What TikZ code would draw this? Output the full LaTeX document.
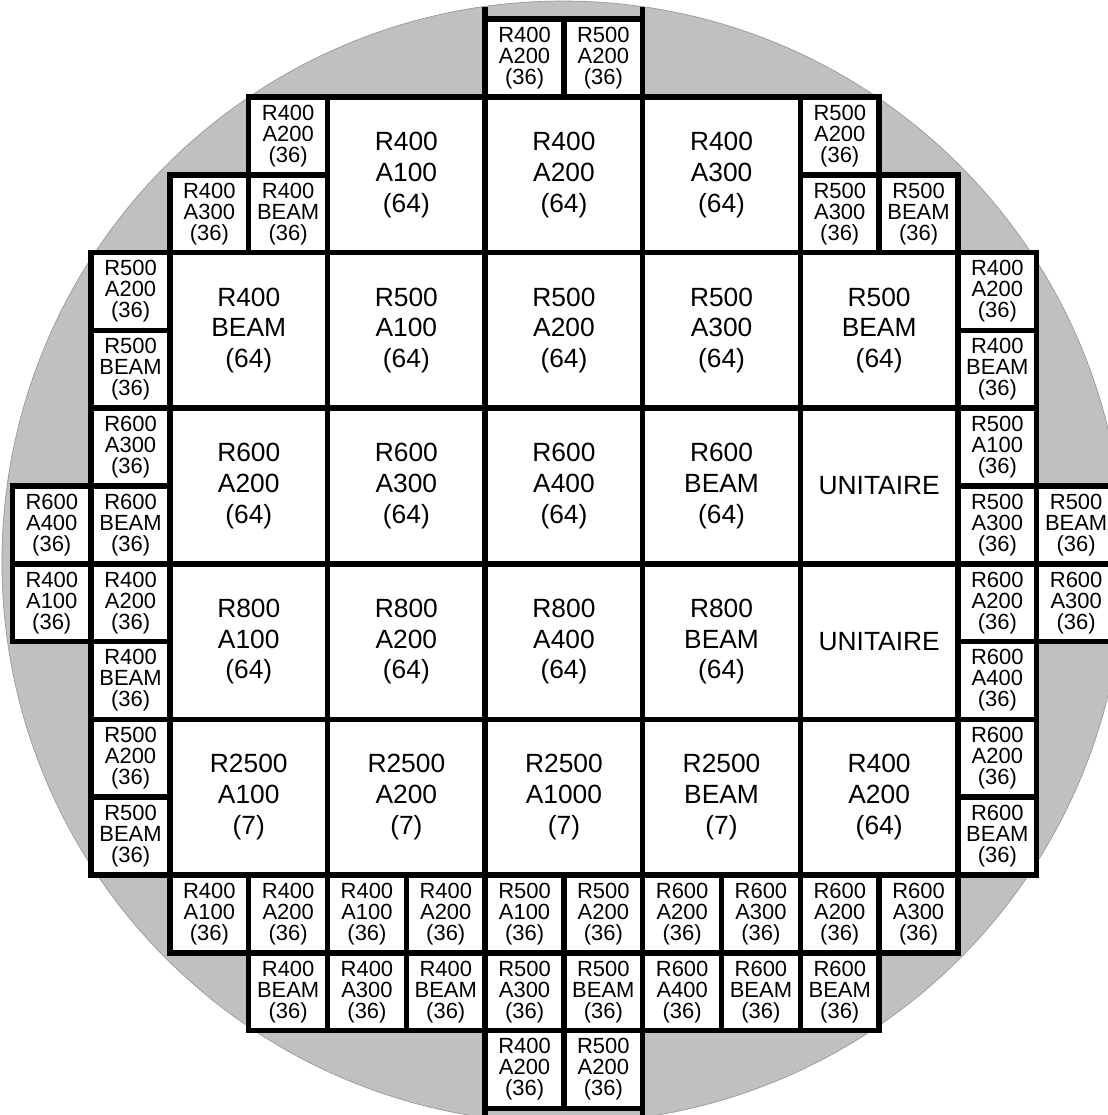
\documentclass[tikz,border=0pt]{standalone}
\usepackage{fontspec}
\setmainfont{Liberation Sans}
\definecolor{wafergray}{RGB}{192,192,192}
\begin{document}
\begin{tikzpicture}[x=1.576cm,y=-1.556cm,
  cell/.style={draw=black,fill=white,line width=3.1pt,anchor=north west,
    inner sep=0pt,outer sep=0pt,align=center},
  smallcell/.style={cell,minimum width=1.576cm,minimum height=1.556cm,
    font=\fontsize{12.5}{12}\selectfont},
  bigcell/.style={cell,minimum width=3.152cm,minimum height=3.112cm,
    font=\fontsize{15}{17.5}\selectfont}]
  \useasboundingbox (-0.157,-0.247) rectangle (13.904,14.085);
  % wafer
  \fill[wafergray,draw=gray!80,thin] (6.987,6.977) circle [radius=11.22cm];
  % top
  \node[smallcell] (c6r0) at (6,0) {R400\\A200\\(36)};
  \node[smallcell] (c7r0) at (7,0) {R500\\A200\\(36)};
  \draw[line width=3.1pt] (c6r0.north west) -- ++(0,-0.16);
  \draw[line width=3.1pt] (c7r0.north east) -- ++(0,-0.16);
  % row 1
  \node[smallcell] (c3r1) at (3,1) {R400\\A200\\(36)};
  \node[smallcell] (c2r2) at (2,2) {R400\\A300\\(36)};
  \node[smallcell] (c3r2) at (3,2) {R400\\BEAM\\(36)};
  \node[bigcell] (b4r1) at (4,1) {R400\\A100\\(64)};
  \node[bigcell] (b6r1) at (6,1) {R400\\A200\\(64)};
  \node[bigcell] (b8r1) at (8,1) {R400\\A300\\(64)};
  \node[smallcell] (c10r1) at (10,1) {R500\\A200\\(36)};
  \node[smallcell] (c10r2) at (10,2) {R500\\A300\\(36)};
  \node[smallcell] (c11r2) at (11,2) {R500\\BEAM\\(36)};
  % row 2
  \node[smallcell] (c1r3) at (1,3) {R500\\A200\\(36)};
  \node[smallcell] (c1r4) at (1,4) {R500\\BEAM\\(36)};
  \node[bigcell] (b2r3) at (2,3) {R400\\BEAM\\(64)};
  \node[bigcell] (b4r3) at (4,3) {R500\\A100\\(64)};
  \node[bigcell] (b6r3) at (6,3) {R500\\A200\\(64)};
  \node[bigcell] (b8r3) at (8,3) {R500\\A300\\(64)};
  \node[bigcell] (b10r3) at (10,3) {R500\\BEAM\\(64)};
  \node[smallcell] (c12r3) at (12,3) {R400\\A200\\(36)};
  \node[smallcell] (c12r4) at (12,4) {R400\\BEAM\\(36)};
  % row 3
  \node[smallcell] (c1r5) at (1,5) {R600\\A300\\(36)};
  \node[smallcell] (c1r6) at (1,6) {R600\\BEAM\\(36)};
  \node[smallcell] (c0r6) at (0,6) {R600\\A400\\(36)};
  \node[bigcell] (b2r5) at (2,5) {R600\\A200\\(64)};
  \node[bigcell] (b4r5) at (4,5) {R600\\A300\\(64)};
  \node[bigcell] (b6r5) at (6,5) {R600\\A400\\(64)};
  \node[bigcell] (b8r5) at (8,5) {R600\\BEAM\\(64)};
  \node[bigcell] (b10r5) at (10,5) {UNITAIRE};
  \node[smallcell] (c12r5) at (12,5) {R500\\A100\\(36)};
  \node[smallcell] (c12r6) at (12,6) {R500\\A300\\(36)};
  \node[smallcell] (c13r6) at (13,6) {R500\\BEAM\\(36)};
  % row 4
  \node[smallcell] (c0r7) at (0,7) {R400\\A100\\(36)};
  \node[smallcell] (c1r7) at (1,7) {R400\\A200\\(36)};
  \node[smallcell] (c1r8) at (1,8) {R400\\BEAM\\(36)};
  \node[bigcell] (b2r7) at (2,7) {R800\\A100\\(64)};
  \node[bigcell] (b4r7) at (4,7) {R800\\A200\\(64)};
  \node[bigcell] (b6r7) at (6,7) {R800\\A400\\(64)};
  \node[bigcell] (b8r7) at (8,7) {R800\\BEAM\\(64)};
  \node[bigcell] (b10r7) at (10,7) {UNITAIRE};
  \node[smallcell] (c12r7) at (12,7) {R600\\A200\\(36)};
  \node[smallcell] (c13r7) at (13,7) {R600\\A300\\(36)};
  \node[smallcell] (c12r8) at (12,8) {R600\\A400\\(36)};
  % row 5
  \node[smallcell] (c1r9) at (1,9) {R500\\A200\\(36)};
  \node[smallcell] (c1r10) at (1,10) {R500\\BEAM\\(36)};
  \node[bigcell] (b2r9) at (2,9) {R2500\\A100\\(7)};
  \node[bigcell] (b4r9) at (4,9) {R2500\\A200\\(7)};
  \node[bigcell] (b6r9) at (6,9) {R2500\\A1000\\(7)};
  \node[bigcell] (b8r9) at (8,9) {R2500\\BEAM\\(7)};
  \node[bigcell] (b10r9) at (10,9) {R400\\A200\\(64)};
  \node[smallcell] (c12r9) at (12,9) {R600\\A200\\(36)};
  \node[smallcell] (c12r10) at (12,10) {R600\\BEAM\\(36)};
  % bottom
  \node[smallcell] (c2r11) at (2,11) {R400\\A100\\(36)};
  \node[smallcell] (c3r11) at (3,11) {R400\\A200\\(36)};
  \node[smallcell] (c4r11) at (4,11) {R400\\A100\\(36)};
  \node[smallcell] (c5r11) at (5,11) {R400\\A200\\(36)};
  \node[smallcell] (c6r11) at (6,11) {R500\\A100\\(36)};
  \node[smallcell] (c7r11) at (7,11) {R500\\A200\\(36)};
  \node[smallcell] (c8r11) at (8,11) {R600\\A200\\(36)};
  \node[smallcell] (c9r11) at (9,11) {R600\\A300\\(36)};
  \node[smallcell] (c10r11) at (10,11) {R600\\A200\\(36)};
  \node[smallcell] (c11r11) at (11,11) {R600\\A300\\(36)};
  \node[smallcell] (c3r12) at (3,12) {R400\\BEAM\\(36)};
  \node[smallcell] (c4r12) at (4,12) {R400\\A300\\(36)};
  \node[smallcell] (c5r12) at (5,12) {R400\\BEAM\\(36)};
  \node[smallcell] (c6r12) at (6,12) {R500\\A300\\(36)};
  \node[smallcell] (c7r12) at (7,12) {R500\\BEAM\\(36)};
  \node[smallcell] (c8r12) at (8,12) {R600\\A400\\(36)};
  \node[smallcell] (c9r12) at (9,12) {R600\\BEAM\\(36)};
  \node[smallcell] (c10r12) at (10,12) {R600\\BEAM\\(36)};
  \node[smallcell] (c6r13) at (6,13) {R400\\A200\\(36)};
  \node[smallcell] (c7r13) at (7,13) {R500\\A200\\(36)};
  \draw[line width=3.1pt] (c6r13.south west) -- ++(0,0.3);
  \draw[line width=3.1pt] (c7r13.south east) -- ++(0,0.3);
\end{tikzpicture}
\end{document}
